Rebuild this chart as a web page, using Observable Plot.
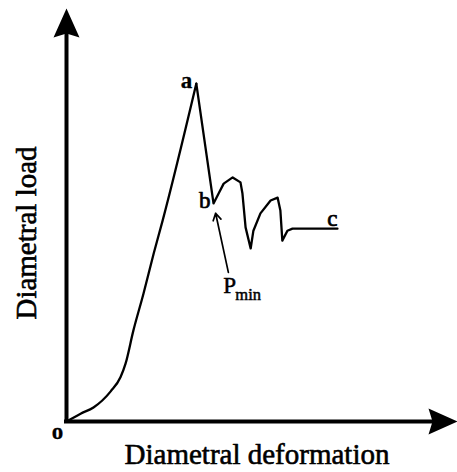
<!DOCTYPE html>
<html>
<head>
<meta charset="utf-8">
<script src="https://cdn.jsdelivr.net/npm/d3@7"></script>
<script src="https://cdn.jsdelivr.net/npm/@observablehq/plot@0.6"></script>
<style>
  html, body { margin: 0; padding: 0; background: #fff; }
</style>
</head>
<body>
<div id="chart"></div>
<script>
// Load–deformation response of a specimen under diametral compression
// (arbitrary units, 0–100 on both axes).
const deformation = [0, 3.6, 6.9, 11.3, 13.8, 15.1, 17.1, 19.7, 22.3, 24.6, 33.2,
  37.6, 38.9, 40.2, 42.5, 44.5, 45.0, 45.8, 47.1, 47.8, 49.6, 52.2, 54.0, 54.7,
  55.2, 56.5, 57.8, 69.3];
const load = [0, 1.9, 3.4, 7.3, 10.7, 14.0, 22.0, 31.0, 40.7, 48.7, 81.8,
  52.8, 55.2, 57.6, 59.1, 57.9, 55.2, 47.0, 41.9, 46.2, 50.4, 53.5, 54.2, 51.1,
  43.8, 46.2, 46.7, 46.7];

// Named points on the curve: peak (a), first drop (b), residual (c)
const pointNames = ["a", "b", "c"];
const pointIndex = [10, 11, deformation.length - 1];

// Tail of the arrow pointing at the minimum load P_min
const pminTail = {deformation: 41.4, load: 36.1};

const curve = deformation.map((d, i) => ({deformation: d, load: load[i]}));
const named = pointNames.map((name, k) => ({name, ...curve[pointIndex[k]]}));
const [ptA, ptB, ptC] = named;
const peak = pointIndex[0];
const loading = curve.slice(0, peak + 1);   // smooth rise up to the peak
const fracture = curve.slice(peak);         // sharp post-peak response

// Filled arrowhead, tip at the origin, pointing up
const arrowHead = {
  draw(ctx) {
    ctx.moveTo(0, 0);
    ctx.lineTo(-13, 29);
    ctx.lineTo(0, 25);
    ctx.lineTo(13, 29);
    ctx.closePath();
  }
};

const font = "Liberation Serif, Times New Roman, serif";
const ink = {fill: "black", stroke: "black", fontFamily: font};

const chart = Plot.plot({
  width: 457,
  height: 472,
  marginLeft: 66,
  marginRight: 0,
  marginTop: 8,
  marginBottom: 51,
  x: {domain: [0, 100], axis: null},
  y: {domain: [0, 100], axis: null},
  marks: [
    // axes with arrowheads
    Plot.ruleX([0], {y1: 0, y2: 95, stroke: "black", strokeWidth: 4, strokeLinecap: "square"}),
    Plot.ruleY([0], {x1: 0, x2: 95, stroke: "black", strokeWidth: 4, strokeLinecap: "square"}),
    Plot.dot([{x: 0, y: 100}], {x: "x", y: "y", symbol: arrowHead, fill: "black", rotate: 0}),
    Plot.dot([{x: 100, y: 0}], {x: "x", y: "y", symbol: arrowHead, fill: "black", rotate: 90}),

    // load–deformation curve
    Plot.line(loading, {x: "deformation", y: "load", curve: "monotone-x",
      stroke: "black", strokeWidth: 2.3, strokeLinejoin: "round", strokeLinecap: "round"}),
    Plot.line(fracture, {x: "deformation", y: "load",
      stroke: "black", strokeWidth: 2.3, strokeLinejoin: "round", strokeLinecap: "round"}),

    // arrow to P_min
    Plot.arrow([{from: pminTail, to: ptB}], {
      x1: d => d.from.deformation, y1: d => d.from.load,
      x2: d => d.to.deformation, y2: d => d.to.load,
      insetEnd: 10, headLength: 7, stroke: "black", strokeWidth: 1.7
    }),
    Plot.text([pminTail], {x: "deformation", y: "load", text: () => "P",
      textAnchor: "start", lineAnchor: "bottom", dx: -5, dy: 21,
      fontSize: 23, strokeWidth: 0.5, ...ink}),
    Plot.text([pminTail], {x: "deformation", y: "load", text: () => "min",
      textAnchor: "start", lineAnchor: "bottom", dx: 7, dy: 28,
      fontSize: 16.5, strokeWidth: 0.5, ...ink}),

    // point labels
    Plot.text([ptA], {x: "deformation", y: "load", text: "name", textAnchor: "end",
      lineAnchor: "bottom", dx: -4, dy: 4, fontSize: 23, fontWeight: "bold", strokeWidth: 0.3, ...ink}),
    Plot.text([ptB], {x: "deformation", y: "load", text: "name", textAnchor: "end",
      lineAnchor: "bottom", dx: -3, dy: 5, fontSize: 23, strokeWidth: 0.7, ...ink}),
    Plot.text([ptC], {x: "deformation", y: "load", text: "name", textAnchor: "end",
      lineAnchor: "bottom", dx: 0, dy: -3, fontSize: 23, strokeWidth: 0.7, ...ink}),
    Plot.text(["o"], {frameAnchor: "bottom-left", text: d => d, textAnchor: "middle",
      lineAnchor: "bottom", dx: -9, dy: 17, fontSize: 23, fontWeight: "bold", strokeWidth: 0.3, ...ink}),

    // axis titles
    Plot.text(["Diametral deformation"], {frameAnchor: "bottom", text: d => d,
      textAnchor: "middle", lineAnchor: "bottom", dx: -5, dy: 42,
      fontSize: 29, strokeWidth: 0.6, ...ink}),
    Plot.text(["Diametral load"], {frameAnchor: "left", text: d => d,
      textAnchor: "middle", lineAnchor: "bottom", rotate: -90, dx: -31, dy: 18,
      fontSize: 29, strokeWidth: 0.6, ...ink})
  ]
});

document.getElementById("chart").appendChild(chart);
</script>
</body>
</html>
